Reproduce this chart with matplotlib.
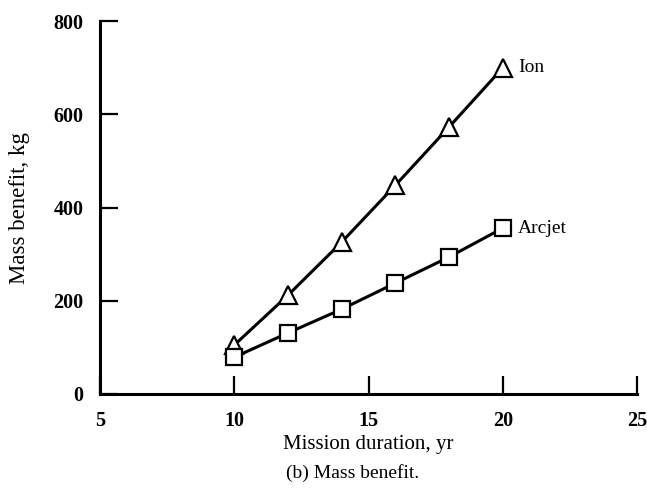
import matplotlib
matplotlib.use("Agg")
import matplotlib.pyplot as plt

plt.rc('font', family='Liberation Serif', size=14)

years = [10, 12, 14, 16, 18, 20]
ion = [105, 212, 326, 448, 573, 700]
arcjet = [79, 131, 182, 238, 294, 356]

fig = plt.figure(figsize=(6.47, 5.01), dpi=100)
ax = fig.add_axes([0.1546, 0.2136, 0.83, 0.744])

ax.plot(years, ion, color="black", lw=2.2, marker="^", ms=12.5,
        mfc="white", mec="black", mew=1.6, clip_on=False)
ax.plot(years, arcjet, color="black", lw=2.2, marker="s", ms=11,
        mfc="white", mec="black", mew=1.6, clip_on=False)

ax.annotate("Ion", (years[-1], ion[-1]), xytext=(11, 0),
            textcoords="offset points", va="center", ha="left", fontsize=14)
ax.annotate("Arcjet", (years[-1], arcjet[-1]), xytext=(11, 0),
            textcoords="offset points", va="center", ha="left", fontsize=14)

ax.set_xlim(5, 25)
ax.set_ylim(0, 800)
ax.set_xticks([5, 10, 15, 20, 25])
ax.set_yticks([0, 200, 400, 600, 800])
ax.tick_params(direction="in", length=13, width=1.6, pad=12, labelsize=14.5)
for lab in ax.get_xticklabels() + ax.get_yticklabels():
    lab.set_fontweight("bold")
ax.spines['right'].set_visible(False)
ax.spines['top'].set_visible(False)
ax.spines['left'].set_linewidth(2.2)
ax.spines['bottom'].set_linewidth(2.2)

ax.set_xlabel("Mission duration, yr", fontsize=15, labelpad=3)
ax.set_ylabel("Mass benefit, kg", fontsize=16.5, labelpad=17)
fig.text(0.545, 0.056, "(b) Mass benefit.", ha="center", va="center",
         fontsize=14)

fig.savefig("out.png", dpi=100)
